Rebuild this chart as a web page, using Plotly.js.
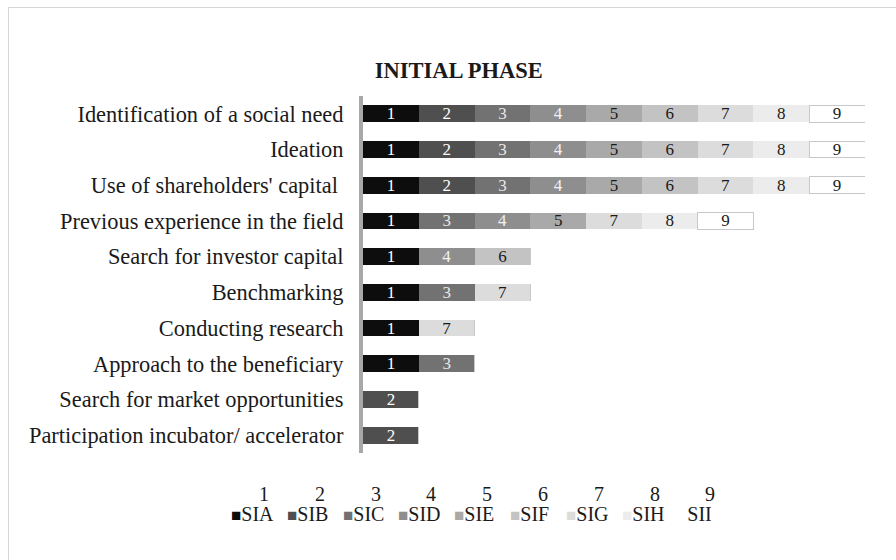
<!DOCTYPE html>
<html>
<head>
<meta charset="utf-8">
<script src="https://cdn.plot.ly/plotly-3.0.1.min.js"></script>
<style>
  html, body { margin: 0; padding: 0; background: #fff; overflow: hidden; }
  #wrap { position: relative; width: 896px; height: 560px; }
  #chart { position: absolute; left: 0; top: 0; width: 896px; height: 560px; }
  #frame { position: absolute; left: 8px; top: 7px; width: 900px; height: 600px;
           border: 1px solid #d6d6d6; pointer-events: none; box-sizing: border-box; }
</style>
</head>
<body>
<div id="wrap">
  <div id="chart"></div>
  <div id="frame"></div>
</div>
<script>
// Categories, top to bottom
var categories = [
  "Identification of a social need",
  "Ideation",
  "Use of shareholders' capital\u00a0",
  "Previous experience in the field",
  "Search for investor capital",
  "Benchmarking",
  "Conducting research",
  "Approach to the beneficiary",
  "Search for market opportunities",
  "Participation incubator/ accelerator"
];

// Series (1 = present for that category)
var seriesNames = ["SIA", "SIB", "SIC", "SID", "SIE", "SIF", "SIG", "SIH", "SII"];
var seriesLabels = ["1", "2", "3", "4", "5", "6", "7", "8", "9"];
var SIA = [1, 1, 1, 1, 1, 1, 1, 1, 0, 0];
var SIB = [1, 1, 1, 0, 0, 0, 0, 0, 1, 1];
var SIC = [1, 1, 1, 1, 0, 1, 0, 1, 0, 0];
var SID = [1, 1, 1, 1, 1, 0, 0, 0, 0, 0];
var SIE = [1, 1, 1, 1, 0, 0, 0, 0, 0, 0];
var SIF = [1, 1, 1, 0, 1, 0, 0, 0, 0, 0];
var SIG = [1, 1, 1, 1, 0, 1, 1, 0, 0, 0];
var SIH = [1, 1, 1, 1, 0, 0, 0, 0, 0, 0];
var SII = [1, 1, 1, 1, 0, 0, 0, 0, 0, 0];
var seriesValues = [SIA, SIB, SIC, SID, SIE, SIF, SIG, SIH, SII];

var colors = ["#0d0d0d", "#4f4f4f", "#727272", "#8e8e8e", "#a9a9a9", "#c3c3c3", "#dcdcdc", "#ececec", "#ffffff"];
var textColors = ["#ffffff", "#ffffff", "#e8e8e8", "#f2f2f2", "#1a1a1a", "#1a1a1a", "#1a1a1a", "#1a1a1a", "#1a1a1a"];

var SERIF = "Liberation Serif, Times New Roman, serif";

var traces = seriesNames.map(function (name, k) {
  var vals = seriesValues[k];
  return {
    type: "bar",
    orientation: "h",
    name: name,
    y: categories,
    x: vals,
    text: vals.map(function (v) { return v ? seriesLabels[k] : ""; }),
    textposition: "inside",
    insidetextanchor: "middle",
    textangle: 0,
    constraintext: "none",
    textfont: { family: SERIF, size: 17, color: textColors[k] },
    marker: { color: colors[k], line: { width: k === 8 ? 1 : 0, color: "#c8c8c8" } },
    hoverinfo: "skip"
  };
});

// Legend drawn as annotations (compact layout as in the original)
var plotL = 363, plotW = 502, plotT = 96, plotH = 357;
function px2x(px) { return (px - plotL) / plotW; }
function py2y(py) { return (plotT + plotH - py) / plotH; }
var legStart = 229, legStep = 55.8;
var annotations = [];
seriesNames.forEach(function (name, k) {
  var left = legStart + k * legStep;
  annotations.push({
    xref: "paper", yref: "paper",
    x: px2x(left + 35), y: py2y(494),
    xanchor: "center", yanchor: "middle",
    text: seriesLabels[k], showarrow: false,
    font: { family: SERIF, size: 20, color: "#1a1a1a" }
  });
  annotations.push({
    xref: "paper", yref: "paper",
    x: px2x(left), y: py2y(514),
    xanchor: "left", yanchor: "middle",
    text: '<span style="color:' + colors[k] + ';font-size:17px">\u25A0</span>' + name,
    showarrow: false,
    font: { family: SERIF, size: 20, color: "#1a1a1a" }
  });
});

var layout = {
  width: 896,
  height: 560,
  paper_bgcolor: "rgba(0,0,0,0)",
  plot_bgcolor: "rgba(0,0,0,0)",
  barmode: "stack",
  bargap: 0.53,
  margin: { l: plotL, r: 896 - plotL - plotW, t: plotT, b: 560 - plotT - plotH },
  font: { family: SERIF, color: "#1a1a1a" },
  title: {
    text: "<b>INITIAL PHASE</b>",
    font: { family: SERIF, size: 22.5, color: "#1a1a1a" },
    x: 0.512, xanchor: "center",
    y: 0.875, yanchor: "middle",
    xref: "container", yref: "container"
  },
  xaxis: {
    range: [0, 9],
    showgrid: false, zeroline: false, showline: false,
    showticklabels: false, ticks: "", fixedrange: true
  },
  yaxis: {
    autorange: "reversed",
    showgrid: false, zeroline: false,
    showline: true, linecolor: "#a8a8a8", linewidth: 4,
    ticks: "outside", ticklen: 11, tickcolor: "rgba(0,0,0,0)",
    tickfont: { family: SERIF, size: 22.4, color: "#1a1a1a" },
    fixedrange: true
  },
  showlegend: false,
  annotations: annotations
};

Plotly.newPlot("chart", traces, layout, { displayModeBar: false, staticPlot: true });
</script>
</body>
</html>
